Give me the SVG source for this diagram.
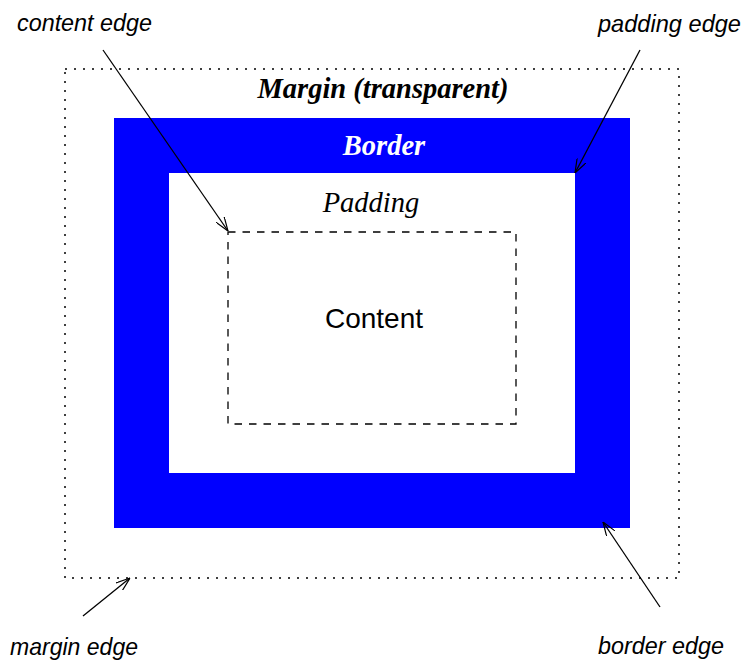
<svg xmlns="http://www.w3.org/2000/svg" width="745" height="662" viewBox="0 0 745 662">
  <style>
    .edge-label { font-family: "Liberation Sans", Arial, sans-serif; font-style: italic; font-size: 24px; fill: #000; }
    .box-label { font-family: "Liberation Serif", "Times New Roman", serif; font-style: italic; font-size: 28.5px; text-anchor: middle; }
    .connector { stroke: #000; stroke-width: 1.3; fill: none; marker-end: url(#open-arrow); }
  </style>
  <defs>
    <marker id="open-arrow" viewBox="0 0 14 10" refX="14" refY="5" markerWidth="14" markerHeight="10" markerUnits="userSpaceOnUse" orient="auto">
      <path d="M0,0 L14,5 L0,10" fill="none" stroke="#000" stroke-width="1.2"/>
    </marker>
  </defs>
  <rect width="745" height="662" fill="#fff"/>

  <!-- margin box (dotted outline) -->
  <g id="margin">
    <rect x="65" y="69" width="614" height="509" fill="none" stroke="#000" stroke-width="1.5" stroke-dasharray="2 7"/>
    <text class="box-label" x="383" y="98" font-weight="bold">Margin (transparent)</text>
  </g>

  <!-- border box -->
  <g id="border">
    <path d="M114,118 H630 V528 H114 Z M169,173 V473 H575 V173 Z" fill="#0000ff" fill-rule="evenodd"/>
    <text class="box-label" x="384" y="155" font-weight="bold" fill="#fff">Border</text>
  </g>

  <!-- padding area -->
  <g id="padding">
    <text class="box-label" x="371" y="212">Padding</text>
  </g>

  <!-- content box (dashed outline) -->
  <g id="content">
    <rect x="228" y="232" width="288" height="192" fill="none" stroke="#000" stroke-width="1.3" stroke-dasharray="7.5 7"/>
    <text x="374" y="328" font-family="Liberation Sans, Arial, sans-serif" font-size="28" text-anchor="middle">Content</text>
  </g>

  <!-- edge labels -->
  <g id="label-content-edge"><text class="edge-label" x="17" y="31" textLength="135" lengthAdjust="spacingAndGlyphs">content edge</text></g>
  <g id="label-padding-edge"><text class="edge-label" x="598" y="32" textLength="143" lengthAdjust="spacingAndGlyphs">padding edge</text></g>
  <g id="label-margin-edge"><text class="edge-label" x="10" y="655" textLength="128" lengthAdjust="spacingAndGlyphs">margin edge</text></g>
  <g id="label-border-edge"><text class="edge-label" x="598" y="654" textLength="126" lengthAdjust="spacingAndGlyphs">border edge</text></g>

  <!-- pointers from labels to edges -->
  <g id="connectors">
    <line class="connector" x1="103" y1="50" x2="228" y2="231"/>
    <line class="connector" x1="640" y1="50" x2="575" y2="173"/>
    <line class="connector" x1="83" y1="616" x2="130" y2="578"/>
    <line class="connector" x1="660" y1="607" x2="603" y2="522"/>
  </g>
</svg>
